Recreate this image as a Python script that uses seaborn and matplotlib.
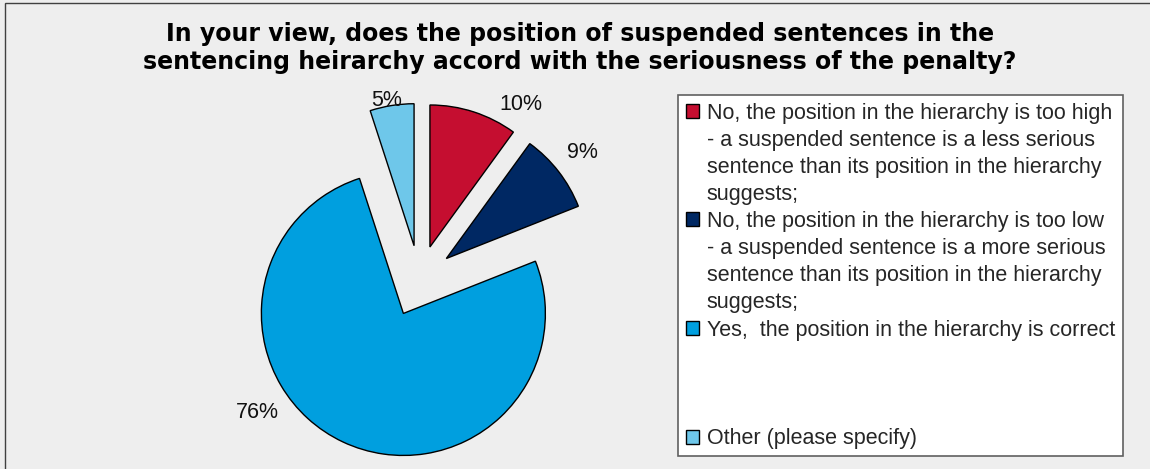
import numpy as np
import matplotlib
matplotlib.use("Agg")
import matplotlib.pyplot as plt
from matplotlib.patches import Rectangle, Patch
import seaborn as sns

# ---------------- data ----------------
title = ("In your view, does the position of suspended sentences in the\n"
         "sentencing heirarchy accord with the seriousness of the penalty?")
categories = [
    "No, the position in the hierarchy is too high\n- a suspended sentence is a less serious\nsentence than its position in the hierarchy\nsuggests;",
    "No, the position in the hierarchy is too low\n- a suspended sentence is a more serious\nsentence than its position in the hierarchy\nsuggests;",
    "Yes,  the position in the hierarchy is correct",
    "Other (please specify)",
]
values = [10, 9, 76, 5]
pct_labels = ["10%", "9%", "76%", "5%"]
colors = ["#C50E30", "#002863", "#009FDF", "#6EC7EA"]
explode = [0.24, 0.24, 0.265, 0.24]

# label placement relative to each exploded wedge: (angle offset deg, distance in radii)
label_place = [(-14.7, 1.19), (0.3, 1.215), (-30.8, 1.243), (1.6, 1.037)]

# ---------------- style ----------------
sns.set_theme(style="white")
plt.rcParams["font.family"] = ["Liberation Sans", "DejaVu Sans"]
BG = "#EEEEEE"

W, H = 1150, 469
fig = plt.figure(figsize=(W / 100, H / 100), dpi=100, facecolor=BG)

# pie axes: 1 data unit = 142 px, centred at pixel (419.4, 279.4)
R = 142.0
cx_px, cy_px = 419.4, 279.4
lim = 1.6
side = 2 * lim * R
ax = fig.add_axes([(cx_px - side / 2) / W, ((H - cy_px) - side / 2) / H, side / W, side / H])
ax.set_facecolor("none")

wedges, texts = ax.pie(
    values,
    explode=explode,
    colors=colors,
    labels=pct_labels,
    startangle=90,
    counterclock=False,
    wedgeprops=dict(edgecolor="black", linewidth=1.0),
    textprops=dict(fontsize=15.5, color="#111111"),
)
for w, t, (da, d) in zip(wedges, texts, label_place):
    mid = np.deg2rad((w.theta1 + w.theta2) / 2 + da)
    c = w.center
    t.set_position((c[0] + d * np.cos(mid), c[1] + d * np.sin(mid)))
    t.set_ha("center")
    t.set_va("center")
ax.set_xlim(-lim, lim)
ax.set_ylim(-lim, lim)
ax.set_aspect("equal")
ax.axis("off")

# title
fig.text(0.504, 1 - 48 / H, title, ha="center", va="center", fontsize=17,
         fontweight="bold", family=["DejaVu Sans"], linespacing=1.25,
         color="black")

# legend box
fig.patches.append(Rectangle((678 / W, 1 - 455.5 / H), 445 / W, 360.5 / H,
                             transform=fig.transFigure, facecolor="white",
                             edgecolor="#606060", linewidth=1.2, zorder=0))

# legend entries line by line (4 line slots per entry)
handles, labels = [], []
for cat, col in zip(categories, colors):
    lines = cat.split("\n")
    lines += [""] * (4 - len(lines))
    for j, ln in enumerate(lines):
        if j == 0:
            handles.append(Patch(facecolor=col, edgecolor="black", linewidth=1.0))
        else:
            handles.append(Patch(facecolor="none", edgecolor="none"))
        labels.append(ln if ln else " ")
handles = handles[:13]
labels = labels[:13]
leg = fig.legend(handles, labels, loc="upper left",
                 bbox_to_anchor=(686 / W, 1 - 102.5 / H), frameon=False,
                 fontsize=15.5, handlelength=0.62, handleheight=0.62,
                 handletextpad=0.35, labelspacing=0.285, borderpad=0,
                 borderaxespad=0)

# outer border (only top and left edges fall inside the image)
fig.patches.append(Rectangle((5 / W, -10 / H), 1200 / W, (469 - 3 + 10) / H,
                             transform=fig.transFigure, facecolor="none",
                             edgecolor="#404040", linewidth=1.0, zorder=0))

fig.savefig("out.png", dpi=100, facecolor=BG)
